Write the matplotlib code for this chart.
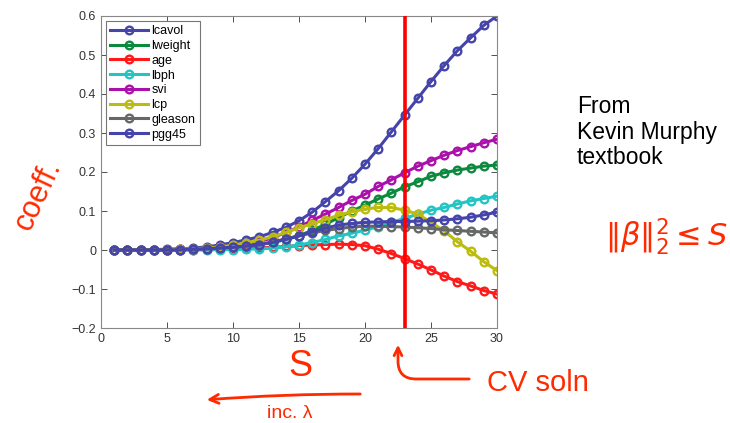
import numpy as np
import matplotlib
matplotlib.use("Agg")
import matplotlib.pyplot as plt

plt.rcParams['font.family'] = ['Liberation Sans', 'DejaVu Sans']

# ridge path: bound S on x, coefficient on y
s_vals = list(range(1, 31))
names = ['lcavol', 'lweight', 'age', 'lbph', 'svi', 'lcp', 'gleason', 'pgg45']

lcavol = [0, 0, 0, 0.001, 0.002, 0.003, 0.005, 0.008, 0.013, 0.019,
          0.026, 0.034, 0.045, 0.058, 0.075, 0.097, 0.124, 0.152, 0.184, 0.22,
          0.26, 0.303, 0.346, 0.389, 0.432, 0.473, 0.511, 0.544, 0.576, 0.6]
lweight = [0, 0, 0, 0, 0.001, 0.001, 0.002, 0.003, 0.005, 0.007,
           0.01, 0.014, 0.019, 0.027, 0.037, 0.05, 0.066, 0.083, 0.1, 0.115,
           0.131, 0.146, 0.162, 0.175, 0.189, 0.198, 0.205, 0.21, 0.215, 0.218]
age = [0, 0, 0, 0, 0, 0.001, 0.001, 0.002, 0.002, 0.003,
       0.004, 0.005, 0.007, 0.009, 0.011, 0.013, 0.014, 0.015, 0.014, 0.011,
       0.002, -0.009, -0.022, -0.036, -0.051, -0.067, -0.081, -0.092, -0.104, -0.113]
lbph = [0, 0, 0, 0, 0, 0, 0, 0, 0.001, 0.001,
        0.002, 0.003, 0.005, 0.008, 0.013, 0.019, 0.027, 0.036, 0.043, 0.051,
        0.06, 0.071, 0.081, 0.092, 0.102, 0.109, 0.118, 0.126, 0.132, 0.138]
svi = [0, 0, 0, 0, 0.001, 0.002, 0.003, 0.004, 0.007, 0.01,
       0.015, 0.022, 0.031, 0.045, 0.059, 0.076, 0.092, 0.109, 0.127, 0.143,
       0.163, 0.18, 0.198, 0.215, 0.229, 0.243, 0.255, 0.265, 0.275, 0.284]
lcp = [0, 0, 0, 0, 0, 0.002, 0.003, 0.005, 0.008, 0.012,
       0.018, 0.025, 0.034, 0.045, 0.057, 0.067, 0.078, 0.089, 0.098, 0.105,
       0.109, 0.109, 0.102, 0.092, 0.071, 0.049, 0.021, -0.003, -0.03, -0.053]
gleason = [0, 0, 0, 0, 0, 0.001, 0.002, 0.003, 0.005, 0.007,
           0.01, 0.014, 0.02, 0.029, 0.036, 0.044, 0.05, 0.055, 0.059, 0.061,
           0.061, 0.06, 0.059, 0.057, 0.055, 0.052, 0.05, 0.048, 0.046, 0.044]
pgg45 = [0, 0, 0, 0, 0, 0, 0.002, 0.003, 0.005, 0.007,
         0.01, 0.014, 0.02, 0.027, 0.036, 0.047, 0.056, 0.064, 0.068, 0.071,
         0.072, 0.073, 0.073, 0.074, 0.075, 0.077, 0.08, 0.084, 0.09, 0.097]
series = [lcavol, lweight, age, lbph, svi, lcp, gleason, pgg45]
colors = ['#4444aa', '#0b8a3e', '#ff1a1a', '#22c4c4', '#aa10aa', '#bcbc10', '#666868', '#4444aa']

cv_s = 23
x_ticks = [0, 5, 10, 15, 20, 25, 30]
y_ticks = [-0.2, -0.1, 0, 0.1, 0.2, 0.3, 0.4, 0.5, 0.6]

fig = plt.figure(figsize=(7.3, 4.23), dpi=100)
ax = fig.add_axes([101/730, 1-328/423, 396/730, 312/423])

for vals, name, c in zip(series, names, colors):
    ax.plot(s_vals, vals, '-o', color=c, lw=2.2, ms=5.5, mew=1.7,
            mfc='none', label=name)

ax.axvline(cv_s, color='#ff0000', lw=2.6, zorder=10)

ax.set_xlim(0, 30)
ax.set_ylim(-0.2, 0.6)
ax.set_xticks(x_ticks)
ax.set_yticks(y_ticks)
ax.set_yticklabels(['\u22120.2', '\u22120.1', '0', '0.1', '0.2', '0.3', '0.4', '0.5', '0.6'])
ax.tick_params(direction='in', top=True, right=True, labelsize=9,
               colors='#333333', length=4, width=0.6)
for sp in ax.spines.values():
    sp.set_color('#888888')
    sp.set_linewidth(0.8)

leg = ax.legend(loc='upper left', fontsize=9, handlelength=3.0,
                labelspacing=0.22, borderaxespad=0.4, handletextpad=0.3,
                borderpad=0.35, fancybox=False, framealpha=1)
leg.get_frame().set_edgecolor('#777777')
leg.get_frame().set_linewidth(0.8)

fig.text(577/730, 1-95/423, 'From\nKevin Murphy\ntextbook', fontsize=16.5,
         va='top', ha='left', linespacing=1.15, color='black')

# handwritten annotations
red = '#ff2a00'
fig.text(38/730, 1-195/423, 'coeff.', color=red, fontsize=22, rotation=65,
         ha='center', va='center')
fig.text(300/730, 1-366/423, 'S', color=red, fontsize=26, ha='center', va='center')
fig.text(538/730, 1-383/423, 'CV soln', color=red, fontsize=21, ha='center', va='center')
fig.text(290/730, 1-413/423, 'inc. \u03bb', color=red, fontsize=14, ha='center', va='center')
fig.text(666/730, 1-236/423, r'$\|\beta\|_2^2 \leq S$', color=red, fontsize=22,
         ha='center', va='center')

ax.annotate('', xy=(398, 423-342), xycoords='figure pixels',
            xytext=(472, 423-379), textcoords='figure pixels',
            arrowprops=dict(arrowstyle='->', color=red, lw=2,
                            connectionstyle='angle,angleA=0,angleB=90,rad=18',
                            mutation_scale=14))
ax.annotate('', xy=(204, 423-400), xycoords='figure pixels',
            xytext=(363, 423-394), textcoords='figure pixels',
            arrowprops=dict(arrowstyle='->', color=red, lw=2,
                            connectionstyle='arc3,rad=0.02', mutation_scale=16))

fig.savefig('out.png', dpi=100)
